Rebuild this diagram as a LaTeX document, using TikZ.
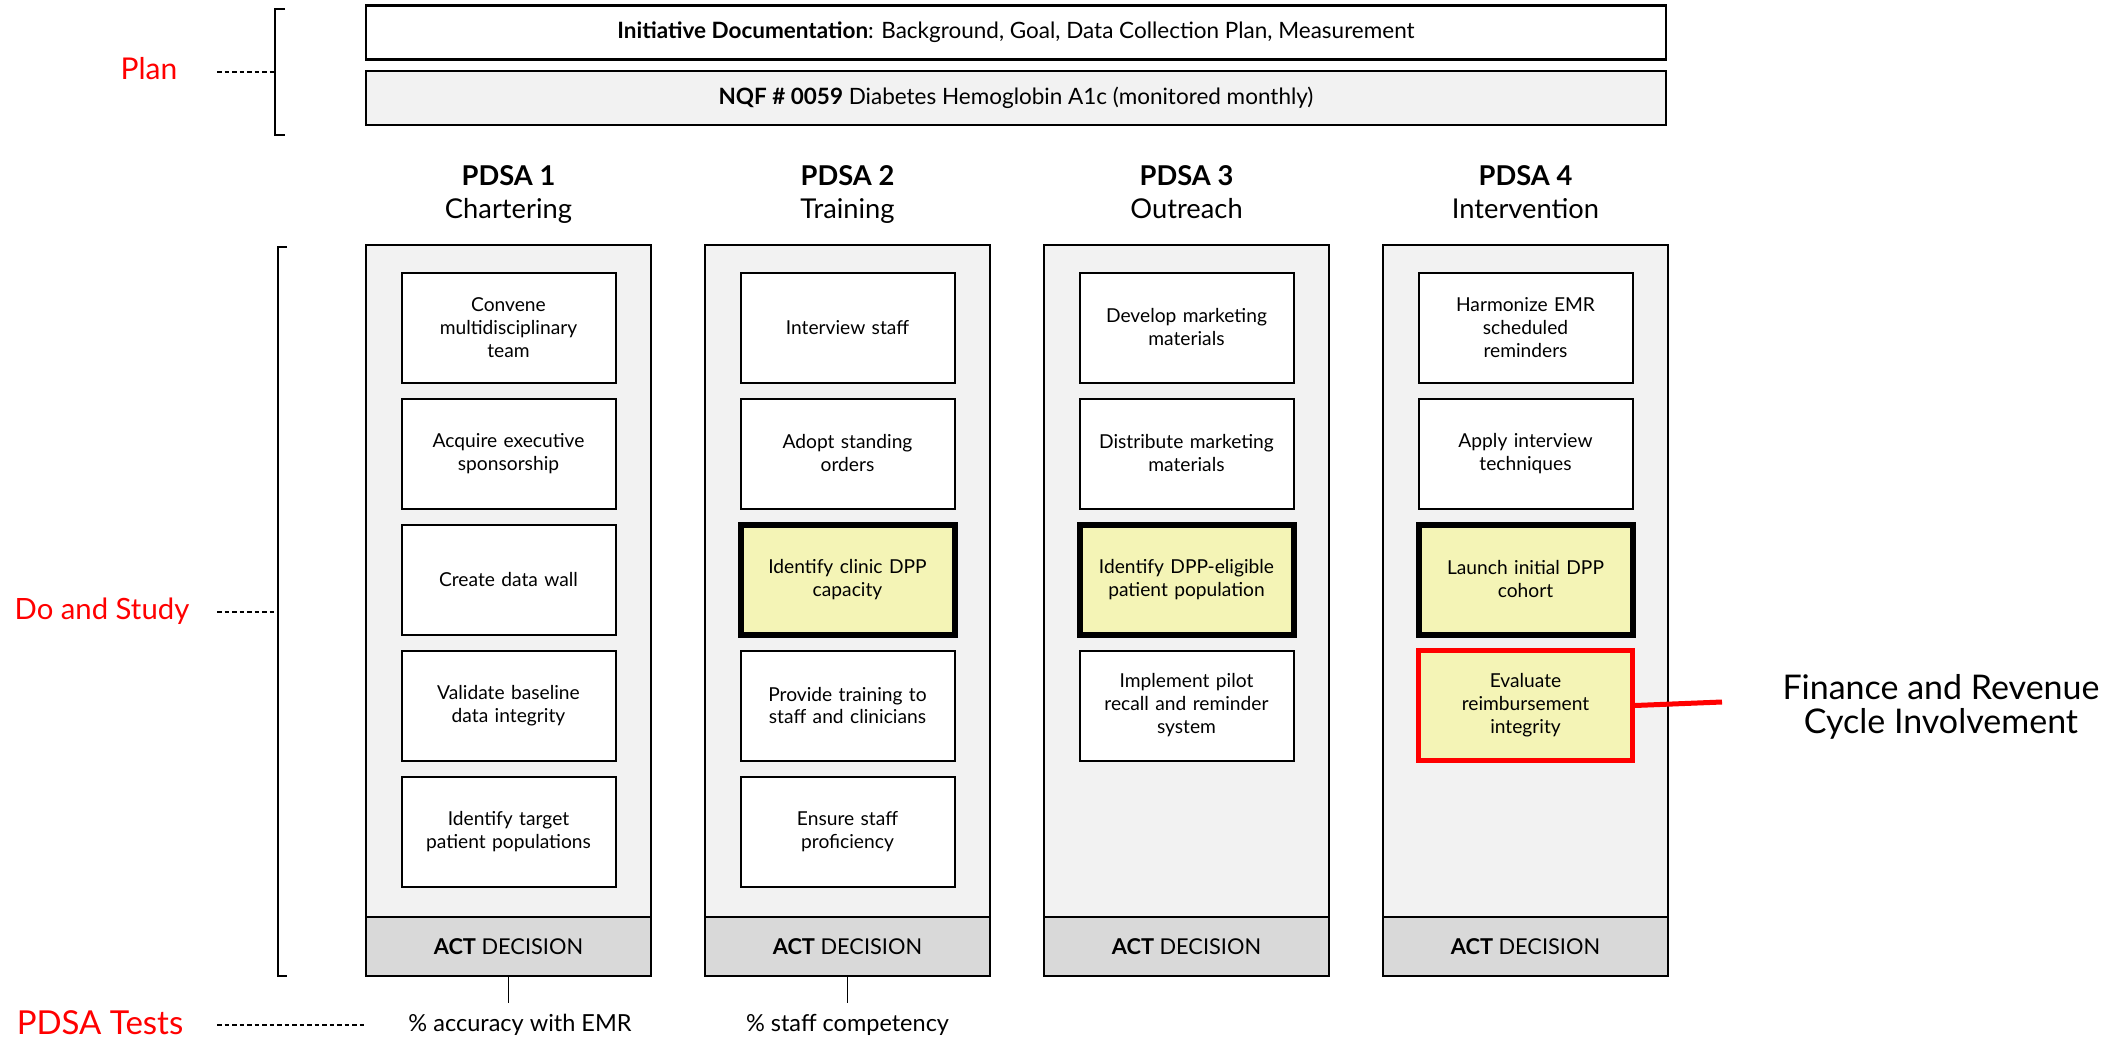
\documentclass[tikz,border=0pt]{standalone}
\usepackage{fontspec}
\setmainfont{Lato}
\definecolor{colgray}{HTML}{F2F2F2}
\definecolor{actgray}{HTML}{D9D9D9}
\definecolor{hiyellow}{HTML}{F4F4B6}
\definecolor{pdsared}{HTML}{FF0000}
\begin{document}
\begin{tikzpicture}[x=1pt,y=-1pt,
  topbox/.style={draw, line width=2.5pt, minimum width=1300pt, minimum height=54pt, inner sep=0pt, font=\fontsize{22.5}{26}\selectfont},
  colbox/.style={draw, line width=2.5pt, fill=colgray, minimum width=285pt, minimum height=731pt, inner sep=0pt},
  actbox/.style={draw, line width=2.5pt, fill=actgray, minimum width=285pt, minimum height=59pt, inner sep=0pt, font=\fontsize{21.8}{25}\selectfont},
  stepbox/.style={draw, line width=2pt, fill=white, minimum width=214pt, minimum height=110pt, text width=210pt, align=center, inner sep=0pt, font=\fontsize{19.2}{23}\selectfont},
  keybox/.style={stepbox, line width=6pt, fill=hiyellow},
  finbox/.style={stepbox, line width=5pt, draw=pdsared, fill=hiyellow},
  header/.style={align=center, font=\fontsize{27.3}{33}\selectfont},
  redlabel/.style={text=pdsared},
  testlabel/.style={font=\fontsize{23.5}{27}\selectfont, inner sep=2pt},
  bracketline/.style={line width=2pt},
  leader/.style={line width=1.3pt, dash pattern=on 4.5pt off 3pt},
]
\useasboundingbox (0,0) rectangle (2126,1038);

% Plan boxes
\node[topbox] (doc) at (1016,32.5) {\textbf{Initiative Documentation}: Background, Goal, Data Collection Plan, Measurement};
\node[topbox, fill=colgray] (nqf) at (1016,98) {\textbf{NQF \# 0059} Diabetes Hemoglobin A1c (monitored monthly)};

% Headers
\node[header] (h1) at (508.5,195) {\textbf{PDSA 1}\\Chartering\vphantom{gy}};
\node[header] (h2) at (847.5,195) {\textbf{PDSA 2}\\Training\vphantom{gy}};
\node[header] (h3) at (1186.5,195) {\textbf{PDSA 3}\\Outreach\vphantom{gy}};
\node[header] (h4) at (1525.5,195) {\textbf{PDSA 4}\\Intervention\vphantom{gy}};

% Columns
\node[colbox] (c1) at (508.5,610.5) {};
\node[colbox] (c2) at (847.5,610.5) {};
\node[colbox] (c3) at (1186.5,610.5) {};
\node[colbox] (c4) at (1525.5,610.5) {};
\node[actbox, anchor=south] (a1) at (c1.south) {\textbf{ACT} DECISION};
\node[actbox, anchor=south] (a2) at (c2.south) {\textbf{ACT} DECISION};
\node[actbox, anchor=south] (a3) at (c3.south) {\textbf{ACT} DECISION};
\node[actbox, anchor=south] (a4) at (c4.south) {\textbf{ACT} DECISION};

% Column 1
\node[stepbox] (s11) at (508.5,327.5) {Convene\\multidisciplinary\\team};
\node[stepbox] (s12) at (508.5,453.5) {Acquire executive\\sponsorship};
\node[stepbox] (s13) at (508.5,579.5) {Create data wall};
\node[stepbox] (s14) at (508.5,705.5) {Validate baseline\\data integrity};
\node[stepbox] (s15) at (508.5,831.5) {Identify target\\patient populations};

% Column 2
\node[stepbox] (s21) at (847.5,327.5) {Interview staff};
\node[stepbox] (s22) at (847.5,453.5) {Adopt standing\\orders};
\node[keybox] (s23) at (847.5,579.5) {Identify clinic DPP\\capacity};
\node[stepbox] (s24) at (847.5,705.5) {Provide training to\\staff and clinicians};
\node[stepbox] (s25) at (847.5,831.5) {Ensure staff\\proficiency};

% Column 3
\node[stepbox] (s31) at (1186.5,327.5) {Develop marketing\\materials};
\node[stepbox] (s32) at (1186.5,453.5) {Distribute marketing\\materials};
\node[keybox] (s33) at (1186.5,579.5) {Identify DPP-eligible\\patient population};
\node[stepbox] (s34) at (1186.5,705.5) {Implement pilot\\recall and reminder\\system};

% Column 4
\node[stepbox] (s41) at (1525.5,327.5) {Harmonize EMR\\scheduled\\reminders};
\node[stepbox] (s42) at (1525.5,453.5) {Apply interview\\techniques};
\node[keybox] (s43) at (1525.5,579.5) {Launch initial DPP\\cohort};
\node[finbox] (s44) at (1525.5,705.5) {Evaluate\\reimbursement\\integrity};

% Finance label
\node[align=center, font=\fontsize{34}{34}\selectfont] (fin) at (1941,707) {Finance and Revenue\\Cycle Involvement};
\coordinate (finend) at (1722,702);
\draw[pdsared, line width=5pt] (s44.east) -- (finend);

% Left labels and brackets
\node[redlabel, font=\fontsize{30}{34}\selectfont] (plan) at (149,69) {Plan};
\node[redlabel, font=\fontsize{29.3}{34}\selectfont] (dostudy) at (102,611) {Do and Study};
\node[redlabel, font=\fontsize{33}{36}\selectfont] (tests) at (100,1023) {PDSA Tests};

\draw[bracketline] (285,9.5) -- (275,9.5) -- (275,135.5) -- (285,135.5);
\draw[bracketline] (287,247) -- (278,247) -- (278,976) -- (287,976);

\coordinate (planlead) at (217,72);
\coordinate (planbrm) at (275,72);
\draw[leader] (planlead) -- (planbrm);
\coordinate (dolead) at (217,612);
\coordinate (dobrm) at (278,612);
\draw[leader] (dolead) -- (dobrm);
\coordinate (testlead) at (217,1025);
\coordinate (testend) at (366,1025);
\draw[leader] (testlead) -- (testend);

% Test results
\node[testlabel] (t1) at (520,1025) {\% accuracy with EMR};
\node[testlabel] (t2) at (847.5,1025) {\% staff competency};
\draw[line width=1.3pt] (a1.south) -- (a1.south |- 0,1003);
\draw[line width=1.3pt] (a2.south) -- (a2.south |- 0,1003);
\end{tikzpicture}
\end{document}
